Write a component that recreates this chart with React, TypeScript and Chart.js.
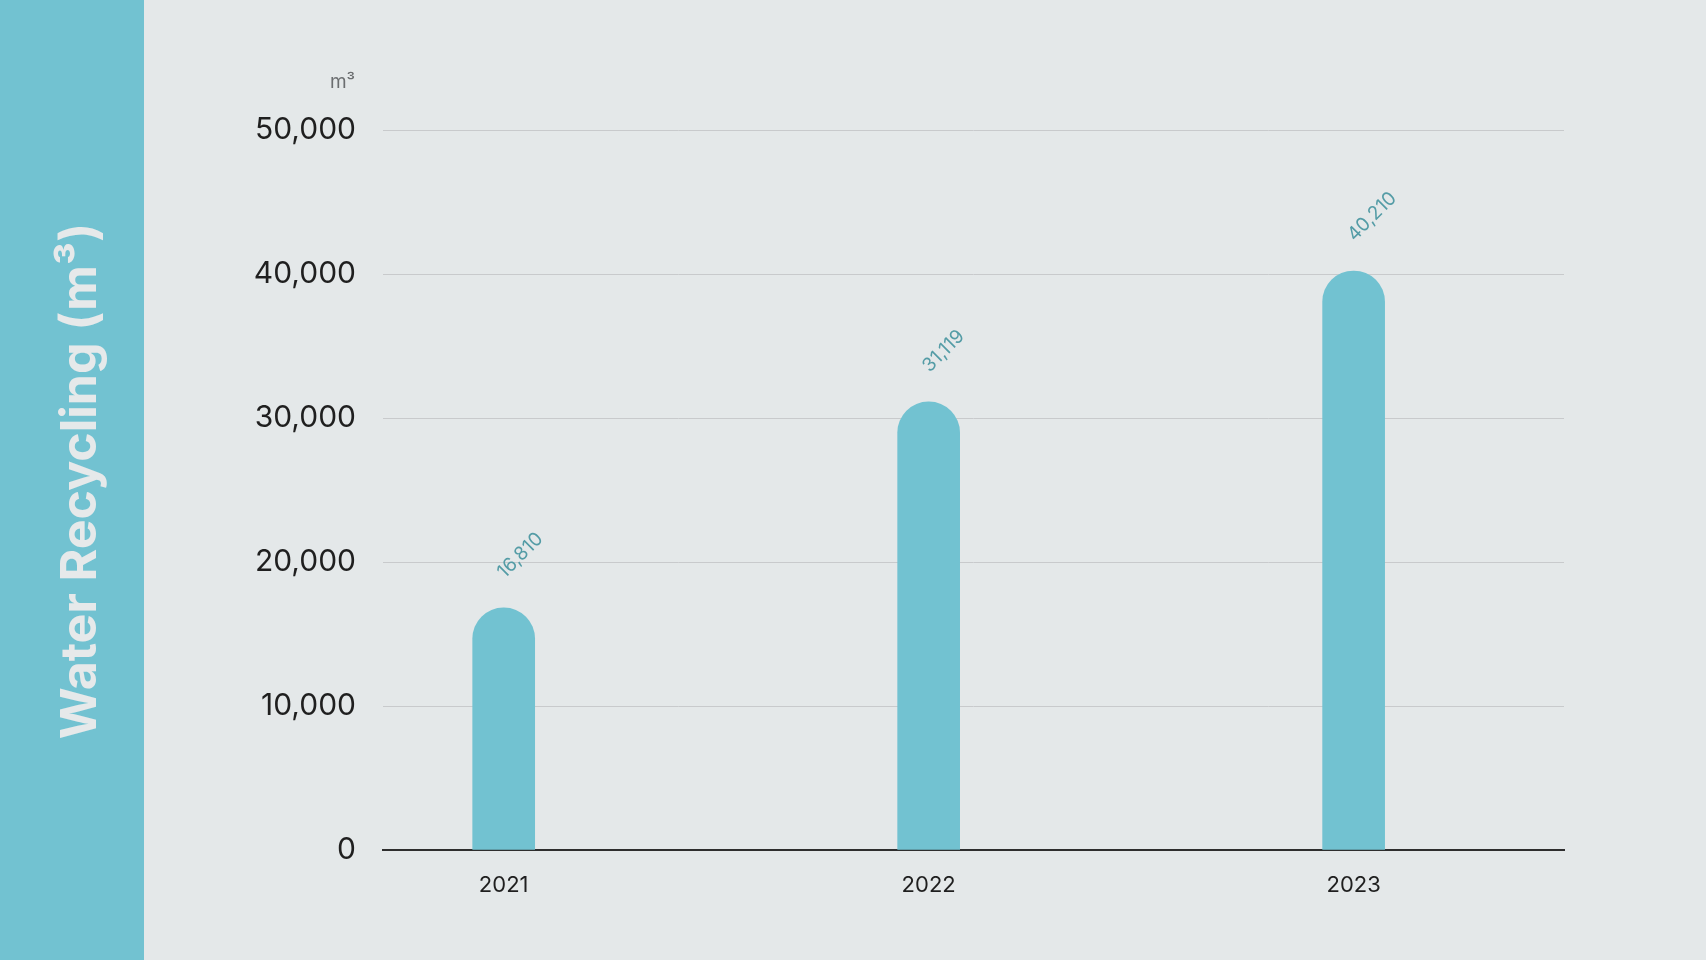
import React, { useEffect, useRef } from "react";
import { Chart, registerables } from "chart.js";

Chart.register(...registerables);

const YEARS = [2021, 2022, 2023];
const VALUES = [16810, 31119, 40210];
const Y_TICKS = [0, 10000, 20000, 30000, 40000, 50000];
const TITLE = "Water Recycling (m³)";
const UNIT = "m³";

const BAR_COLOR = "#72C2D1";
const BG = "#E4E8E9";

export default function App() {
  const ref = useRef<HTMLCanvasElement | null>(null);

  useEffect(() => {
    const canvas = ref.current;
    if (!canvas) return;

    const labelPlugin = {
      id: "valueLabels",
      afterDatasetsDraw(chart: any) {
        const ctx = chart.ctx;
        const meta = chart.getDatasetMeta(0);
        meta.data.forEach((bar: any, i: number) => {
          ctx.save();
          ctx.translate(bar.x + 1, bar.y - 29);
          ctx.rotate(-Math.PI / 4);
          ctx.font = "19px Inter";
          ctx.fillStyle = "#549CA6";
          ctx.textAlign = "left";
          ctx.textBaseline = "alphabetic";
          ctx.fillText(VALUES[i].toLocaleString("en-US"), 0, 0);
          ctx.restore();
        });
      },
      afterDraw(chart: any) {
        const ctx = chart.ctx;
        const area = chart.chartArea;
        ctx.save();
        ctx.font = "19px Inter";
        ctx.fillStyle = "#6B6E70";
        ctx.textAlign = "right";
        ctx.textBaseline = "alphabetic";
        ctx.fillText(UNIT, area.left - 28, area.top - 42);
        ctx.restore();
      },
    };

    const chart = new Chart(canvas, {
      type: "bar",
      data: {
        datasets: [
          {
            data: YEARS.map((x, i) => ({ x, y: VALUES[i] })),
            backgroundColor: BAR_COLOR,
            borderWidth: 0,
            barThickness: 62,
            borderRadius: 31,
            borderSkipped: "start",
          },
        ],
      },
      options: {
        responsive: false,
        animation: false,
        devicePixelRatio: 1,
        layout: { padding: { left: 0, right: 142, top: 130, bottom: 50 } },
        plugins: { legend: { display: false }, tooltip: { enabled: false } },
        scales: {
          x: {
            type: "linear",
            min: 2020.716,
            max: 2023.495,
            offset: false,
            z: 1,
            afterBuildTicks: (scale: any) => {
              scale.ticks = YEARS.map((v) => ({ value: v }));
            },
            afterFit: (scale: any) => {
              scale.height = 60;
            },
            grid: { display: false, drawTicks: false, offset: false },
            border: { display: true, color: "#2E2E2E", width: 2 },
            ticks: {
              padding: 22,
              color: "#1F1F1F",
              font: { family: "Inter", size: 22 },
              callback: (v: any) => String(v),
              maxRotation: 0,
            },
          },
          y: {
            min: 0,
            max: 50000,
            afterBuildTicks: (scale: any) => {
              scale.ticks = Y_TICKS.map((v) => ({ value: v }));
            },
            afterFit: (scale: any) => {
              scale.width = 239;
            },
            grid: { color: "#C8CACC", lineWidth: 1, drawTicks: false },
            border: { display: false },
            ticks: {
              padding: 27,
              color: "#1F1F1F",
              font: { family: "Inter", size: 30 },
              callback: (v: any) => Number(v).toLocaleString("en-US"),
            },
          },
        },
      },
      plugins: [labelPlugin],
    });

    return () => chart.destroy();
  }, []);

  return (
    <div
      style={{
        position: "fixed",
        left: 0,
        top: 0,
        width: 1706,
        height: 960,
        background: BG,
        overflow: "hidden",
      }}
    >
      <div
        style={{
          position: "absolute",
          left: 0,
          top: 0,
          width: 144,
          height: 960,
          background: BAR_COLOR,
        }}
      >
        <span
          style={{
            position: "absolute",
            left: 78,
            top: 481,
            transform: "translate(-50%, -50%) rotate(-90deg)",
            whiteSpace: "nowrap",
            fontFamily: "Inter",
            fontWeight: 700,
            fontSize: 50,
            color: "#E6E9EA",
            lineHeight: 1,
          }}
        >
          {TITLE}
        </span>
      </div>
      <canvas
        ref={ref}
        width={1562}
        height={960}
        style={{ position: "absolute", left: 144, top: 0, width: 1562, height: 960 }}
      />
    </div>
  );
}
